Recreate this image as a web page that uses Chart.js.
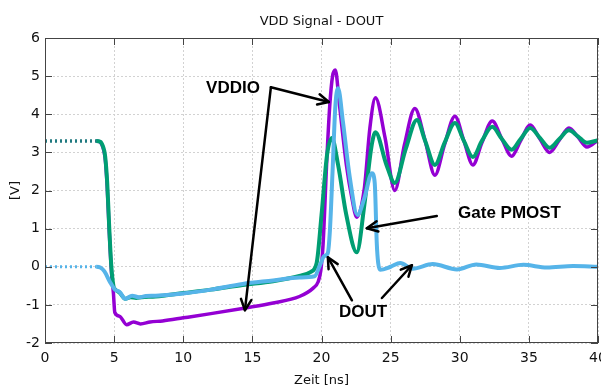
<!DOCTYPE html>
<html>
<head>
<meta charset="utf-8">
<script src="https://cdn.jsdelivr.net/npm/chart.js@4.4.1/dist/chart.umd.min.js"></script>
<style>
html,body{margin:0;padding:0;background:#fff;}
#wrap{width:601px;height:389px;}
</style>
</head>
<body>
<div id="wrap"><canvas id="c" width="601" height="389"></canvas></div>
<script>
// ---- data ----
const xTickVals = [0, 5, 10, 15, 20, 25, 30, 35, 40];
const yTickVals = [-2, -1, 0, 1, 2, 3, 4, 5, 6];

const vddioT = [0, 3.7, 4.0, 4.2, 4.35, 4.5, 4.65, 4.8, 4.95, 5.05, 5.4, 5.9, 6.4, 6.9, 7.6, 8.5, 10, 12, 14.5, 16.5, 18.4, 19.4, 19.75, 19.95, 20.1, 20.4, 20.6, 20.8, 21.0, 21.3, 21.8, 22.2, 22.55, 23.1, 23.5, 23.9, 24.6, 25.3, 26.0, 26.75, 27.5, 28.2, 28.9, 29.65, 30.3, 30.95, 31.6, 32.35, 33.05, 33.75, 34.4, 35.1, 35.8, 36.5, 37.2, 37.9, 38.55, 39.2, 40];
const vddioV = [3.3, 3.3, 3.27, 3.12, 2.85, 2.1, 0.9, -0.1, -0.7, -1.2, -1.3, -1.52, -1.45, -1.5, -1.45, -1.42, -1.34, -1.23, -1.08, -0.95, -0.78, -0.56, -0.4, -0.1, 0.5, 2.93, 4.24, 5.0, 5.16, 4.24, 2.67, 1.8, 1.3, 2.06, 3.64, 4.43, 3.38, 2.0, 3.2, 4.15, 3.3, 2.4, 3.2, 3.95, 3.3, 2.67, 3.25, 3.82, 3.35, 2.9, 3.3, 3.72, 3.35, 3.0, 3.32, 3.64, 3.4, 3.14, 3.32];

const gateT = [0, 3.7, 4.0, 4.2, 4.35, 4.5, 4.65, 4.8, 4.95, 5.1, 5.4, 5.8, 6.2, 6.6, 7.0, 8, 10, 12, 14.3, 16.5, 18.4, 19.2, 19.65, 20.0, 20.4, 20.75, 21.2, 21.8, 22.55, 23.1, 23.6, 23.9, 24.7, 25.3, 26.1, 26.9, 27.5, 28.2, 28.9, 29.65, 30.3, 30.95, 31.6, 32.35, 33.05, 33.75, 34.4, 35.1, 35.8, 36.5, 37.2, 37.9, 38.55, 39.2, 40];
const gateV = [3.3, 3.3, 3.28, 3.15, 2.9, 2.2, 1.0, 0.0, -0.5, -0.6, -0.68, -0.84, -0.8, -0.82, -0.8, -0.78, -0.69, -0.6, -0.48, -0.38, -0.24, -0.14, 0.1, 1.35, 2.93, 3.38, 2.67, 1.35, 0.38, 1.62, 3.12, 3.53, 2.67, 2.2, 3.1, 3.85, 3.3, 2.67, 3.25, 3.77, 3.3, 2.88, 3.3, 3.67, 3.35, 3.07, 3.35, 3.64, 3.38, 3.12, 3.35, 3.58, 3.42, 3.25, 3.32];

const doutT = [0, 3.7, 4.0, 4.3, 4.7, 5.06, 5.4, 5.8, 6.3, 6.8, 7.3, 8, 10, 12, 14.3, 16.5, 18.4, 19.5, 19.9, 20.2, 20.45, 20.6, 20.8, 21.0, 21.2, 21.55, 22.05, 22.6, 23.1, 23.65, 23.85, 24.0, 24.1, 24.25, 25.0, 25.7, 26.6, 28.05, 29.8, 31.2, 32.9, 34.6, 36.3, 38.2, 40];
const doutV = [0, 0, -0.02, -0.12, -0.4, -0.6, -0.66, -0.84, -0.76, -0.8, -0.77, -0.76, -0.7, -0.6, -0.45, -0.36, -0.28, -0.25, 0.05, 0.28, 0.35, 0.9, 2.5, 4.2, 4.68, 3.8, 2.33, 1.36, 1.8, 2.45, 2.2, 0.6, 0.1, -0.08, 0.0, 0.1, -0.05, 0.07, -0.07, 0.06, -0.03, 0.05, -0.02, 0.02, 0.0];

const dottedUntil = 3.7;

// ---- build ----
const toXY = (t, v) => t.map((tt, i) => ({x: tt, y: v[i]}));
const FONT = "'DejaVu Sans', sans-serif";

function ds(label, t, v, color, width, dotColor, order) {
  return {
    label, data: toXY(t, v), borderColor: color, borderWidth: width, order,
    pointRadius: 0, fill: false, cubicInterpolationMode: 'monotone',
    segment: {
      borderDash: c => c.p1.parsed.x <= dottedUntil ? [2, 3] : undefined,
      borderColor: c => c.p1.parsed.x <= dottedUntil ? dotColor : undefined,
      borderWidth: c => c.p1.parsed.x <= dottedUntil ? 3 : undefined
    }
  };
}

const notes = {
  vddio: {text: 'VDDIO', x: 13.6, y: 4.69, vx: 16.34, vy: 4.71, tips: [[20.53, 4.32], [14.46, -1.14]]},
  gate: {text: 'Gate PMOST', x: 33.6, y: 1.41, arrows: [[28.34, 1.33, 23.28, 1.01]]},
  dout: {text: 'DOUT', x: 23.0, y: -1.19, arrows: [[22.2, -0.88, 20.46, 0.25], [24.37, -0.82, 26.54, 0.04]]}
};

function arrow(ctx, x1, y1, x2, y2) {
  ctx.beginPath(); ctx.moveTo(x1, y1); ctx.lineTo(x2, y2); ctx.stroke();
  const ang = Math.atan2(y2 - y1, x2 - x1), L = 12, w = 0.45;
  ctx.beginPath();
  ctx.moveTo(x2 - L * Math.cos(ang - w), y2 - L * Math.sin(ang - w));
  ctx.lineTo(x2, y2);
  ctx.lineTo(x2 - L * Math.cos(ang + w), y2 - L * Math.sin(ang + w));
  ctx.stroke();
}

const overlay = {
  id: 'overlay',
  afterDraw(chart) {
    const {ctx, chartArea: a, scales: {x, y}} = chart;
    ctx.save();
    // frame
    ctx.strokeStyle = '#444'; ctx.lineWidth = 1; ctx.setLineDash([]);
    ctx.strokeRect(a.left + 0.5, a.top + 0.5, a.right - a.left - 1, a.bottom - a.top - 1);
    // inward ticks
    const tl = 7;
    ctx.beginPath();
    xTickVals.forEach(v => {
      const px = Math.round(x.getPixelForValue(v)) + 0.5;
      ctx.moveTo(px, a.bottom); ctx.lineTo(px, a.bottom - tl);
      ctx.moveTo(px, a.top); ctx.lineTo(px, a.top + tl);
    });
    yTickVals.forEach(v => {
      const py = Math.round(y.getPixelForValue(v)) + 0.5;
      ctx.moveTo(a.left, py); ctx.lineTo(a.left + tl, py);
      ctx.moveTo(a.right, py); ctx.lineTo(a.right - tl, py);
    });
    ctx.stroke();
    // title & axis titles
    ctx.fillStyle = '#111';
    ctx.font = '13px ' + FONT;
    ctx.textAlign = 'center'; ctx.textBaseline = 'middle';
    const cx = (a.left + a.right) / 2;
    ctx.fillText('VDD Signal - DOUT', cx, 22);
    ctx.fillText('Zeit [ns]', cx, 381);
    ctx.save();
    ctx.translate(16, (a.top + a.bottom) / 2);
    ctx.rotate(-Math.PI / 2);
    ctx.fillText('[V]', 0, 0);
    ctx.restore();
    // annotations
    ctx.fillStyle = '#000';
    ctx.font = "bold 17px 'Liberation Sans', Arial, sans-serif";
    ctx.strokeStyle = '#000'; ctx.lineWidth = 2.5; ctx.lineCap = 'round'; ctx.lineJoin = 'round';
    Object.values(notes).forEach(n => {
      ctx.fillText(n.text, x.getPixelForValue(n.x), y.getPixelForValue(n.y));
      if (n.tips) {
        const vx = x.getPixelForValue(n.vx), vy = y.getPixelForValue(n.vy);
        n.tips.forEach(t => arrow(ctx, vx, vy, x.getPixelForValue(t[0]), y.getPixelForValue(t[1])));
      }
      if (n.arrows) {
        n.arrows.forEach(r => arrow(ctx, x.getPixelForValue(r[0]), y.getPixelForValue(r[1]),
                                         x.getPixelForValue(r[2]), y.getPixelForValue(r[3])));
      }
    });
    ctx.restore();
  }
};

new Chart(document.getElementById('c'), {
  type: 'line',
  data: {
    datasets: [
      ds('VDDIO', vddioT, vddioV, '#9400D3', 3.5, '#207a80', 3),
      ds('Gate PMOST', gateT, gateV, '#009E73', 4, '#207a80', 2),
      ds('DOUT', doutT, doutV, '#56B4E9', 4, '#56B4E9', 1)
    ]
  },
  options: {
    responsive: false, animation: false,
    layout: {padding: {top: 38, right: 3, left: 0, bottom: 0}},
    plugins: {legend: {display: false}, tooltip: {enabled: false}, title: {display: false}},
    scales: {
      x: {
        type: 'linear', min: 0, max: 40,
        afterBuildTicks: s => { s.ticks = xTickVals.map(v => ({value: v})); },
        afterFit: s => { s.height = 46; s.paddingLeft = 0; s.paddingRight = 0; },
        ticks: {font: {family: FONT, size: 14}, color: '#111', padding: 7, maxRotation: 0, autoSkip: false},
        grid: {color: '#d2d2d2', lineWidth: 1, drawTicks: false},
        border: {display: false, dash: [2, 2]}
      },
      y: {
        type: 'linear', min: -2, max: 6,
        afterBuildTicks: s => { s.ticks = yTickVals.map(v => ({value: v})); },
        afterFit: s => { s.width = 45; s.paddingTop = 0; s.paddingBottom = 0; },
        ticks: {font: {family: FONT, size: 14}, color: '#111', padding: 5},
        grid: {color: '#d2d2d2', lineWidth: 1, drawTicks: false},
        border: {display: false, dash: [2, 2]}
      }
    }
  },
  plugins: [overlay]
});
</script>
</body>
</html>
